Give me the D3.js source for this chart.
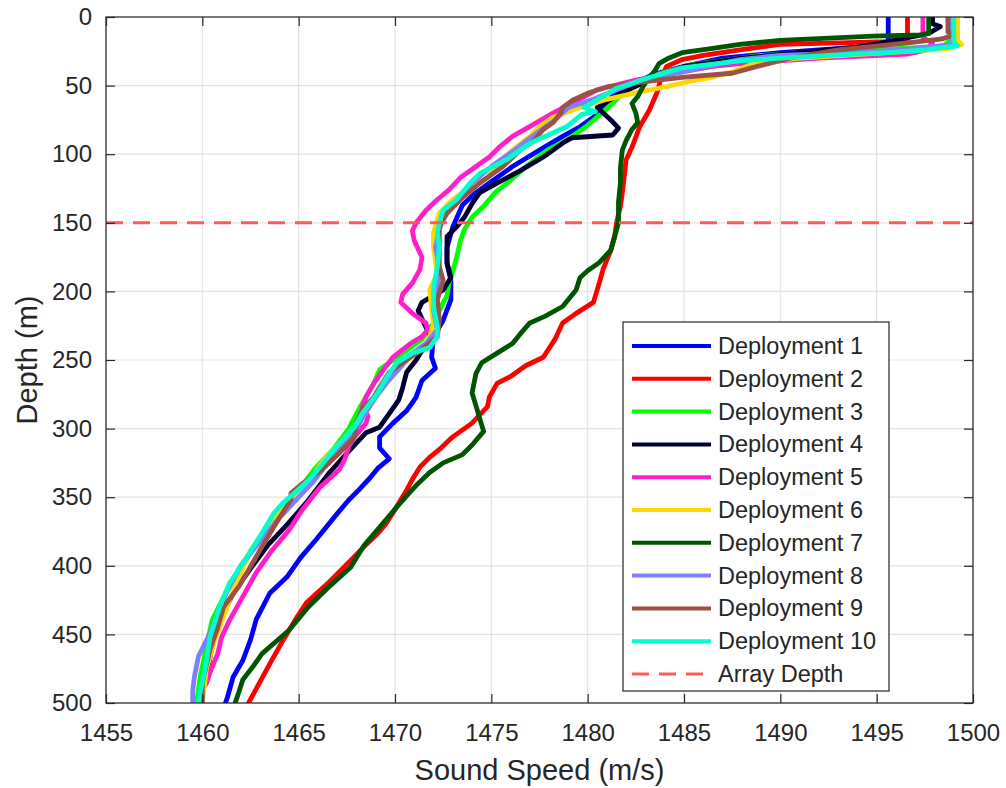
<!DOCTYPE html>
<html>
<head>
<meta charset="utf-8">
<script src="https://cdn.jsdelivr.net/npm/d3@7"></script>
<style>
  body { margin: 0; background: #fff; }
  text { font-family: "Liberation Sans", Arial, sans-serif; fill: #262626; }
</style>
</head>
<body>
<div id="chart"></div>
<script>
// Sound speed profiles, each point is [depth (m), sound speed (m/s)]
var dep1 = [[0,1495.6],[17,1495.6],[19,1496.3],[22,1494.0],[26,1490.0],[30,1487.0],[36,1485.0],[42,1483.4],[47,1482.6],[55,1481.5],[66,1480.7],[73,1480.3],[80,1479.6],[87,1478.7],[97,1477.5],[109,1476.1],[121,1474.9],[128,1474.2],[137,1473.5],[153,1473.0],[168,1472.7],[180,1472.7],[192,1472.9],[206,1472.9],[221,1472.5],[233,1472.0],[248,1471.9],[256,1472.1],[265,1471.4],[277,1471.1],[287,1470.6],[296,1469.9],[306,1469.2],[314,1469.2],[322,1469.7],[329,1469.1],[336,1468.7],[345,1468.1],[352,1467.6],[362,1467.0],[381,1465.9],[394,1465.1],[408,1464.4],[420,1463.5],[439,1462.8],[454,1462.5],[469,1462.1],[481,1461.6],[496,1461.3],[500,1461.2]];
var dep2 = [[0,1496.6],[16,1496.6],[18,1495.6],[20,1490.0],[24,1487.9],[28,1486.0],[31,1484.9],[36,1484.1],[45,1483.8],[55,1483.6],[68,1483.2],[80,1482.7],[95,1482.3],[104,1482.0],[116,1481.9],[128,1481.8],[138,1481.7],[150,1481.5],[160,1481.4],[170,1481.2],[184,1480.8],[194,1480.6],[208,1480.3],[216,1479.4],[223,1478.7],[235,1478.3],[248,1477.7],[254,1476.8],[262,1476.0],[267,1475.3],[277,1474.9],[284,1474.8],[296,1474.0],[306,1473.0],[314,1472.4],[321,1471.8],[328,1471.3],[337,1470.9],[345,1470.6],[359,1470.0],[370,1469.5],[378,1469.0],[386,1468.4],[396,1467.7],[413,1466.5],[427,1465.4],[440,1464.8],[454,1464.2],[464,1463.8],[474,1463.4],[487,1462.9],[500,1462.4]];
var dep3 = [[0,1498.8],[17,1498.8],[21,1498.5],[24,1495.0],[28,1489.0],[35,1485.3],[42,1483.6],[50,1482.3],[60,1481.5],[67,1481.0],[73,1480.5],[80,1479.9],[90,1478.9],[97,1477.9],[109,1476.8],[119,1476.0],[128,1475.2],[138,1474.6],[146,1474.0],[155,1473.6],[163,1473.4],[175,1473.2],[185,1473.0],[194,1472.8],[203,1472.7],[211,1472.4],[221,1472.1],[235,1471.4],[243,1470.6],[250,1469.9],[257,1469.2],[267,1468.9],[272,1468.7],[284,1468.2],[292,1467.9],[300,1467.6],[315,1466.8],[330,1465.8],[345,1465.0],[360,1464.2],[380,1463.0],[400,1462.0],[420,1461.2],[440,1460.5],[460,1460.2],[480,1459.9],[500,1459.7]];
var dep4 = [[0,1497.9],[5,1497.9],[7,1498.3],[12,1497.7],[18,1495.6],[22,1494.0],[26,1491.0],[30,1488.0],[36,1485.0],[44,1483.5],[55,1481.8],[66,1480.5],[75,1481.2],[81,1481.6],[86,1481.3],[88,1479.2],[91,1478.8],[102,1477.7],[112,1476.5],[121,1475.3],[128,1474.4],[136,1474.0],[146,1473.6],[153,1473.2],[160,1472.7],[170,1472.7],[179,1472.7],[190,1472.9],[199,1472.5],[208,1471.4],[214,1471.2],[226,1471.6],[235,1471.9],[243,1471.4],[250,1471.1],[259,1470.6],[270,1470.4],[279,1470.2],[289,1469.7],[299,1469.2],[303,1468.5],[318,1467.5],[332,1466.6],[343,1466.0],[354,1465.4],[370,1464.4],[385,1463.4],[400,1462.6],[420,1461.6],[440,1460.9],[460,1460.5],[480,1460.2],[500,1459.9]];
var dep5 = [[0,1497.4],[15,1497.4],[19,1497.9],[24,1497.6],[27,1496.6],[30,1492.0],[34,1487.9],[36,1486.5],[40,1484.9],[46,1482.5],[53,1480.5],[62,1479.3],[70,1478.2],[79,1477.1],[87,1476.1],[95,1475.4],[102,1474.9],[110,1474.1],[117,1473.4],[126,1472.8],[133,1472.2],[141,1471.6],[150,1471.1],[156,1470.9],[163,1471.0],[175,1471.4],[184,1471.3],[194,1470.9],[202,1470.4],[208,1470.3],[216,1470.9],[223,1471.6],[228,1471.7],[233,1471.4],[238,1470.8],[248,1469.9],[257,1469.4],[267,1468.9],[277,1468.5],[284,1468.3],[291,1468.6],[296,1468.5],[306,1467.9],[313,1467.6],[322,1467.4],[330,1467.1],[343,1466.1],[359,1465.2],[374,1464.5],[389,1463.6],[405,1462.8],[425,1462.0],[440,1461.4],[452,1461.0],[464,1460.8],[474,1460.5],[486,1460.2]];
var dep6 = [[0,1499.2],[17,1499.2],[20,1499.4],[23,1498.7],[26,1495.6],[30,1491.0],[33,1488.8],[40,1487.5],[44,1486.4],[47,1485.3],[51,1484.0],[55,1482.6],[60,1481.0],[66,1479.6],[73,1478.2],[80,1477.5],[87,1477.0],[97,1476.1],[106,1475.4],[117,1474.8],[124,1473.9],[133,1473.0],[143,1472.3],[157,1472.0],[168,1472.0],[187,1472.2],[199,1471.8],[212,1471.9],[225,1472.0],[240,1471.6],[250,1470.6],[262,1469.8],[275,1469.1],[290,1468.4],[305,1467.5],[323,1466.3],[337,1465.6],[350,1464.9],[367,1463.7],[389,1462.5],[418,1461.6],[437,1461.1],[456,1460.6],[476,1460.2],[500,1460.0]];
var dep7 = [[0,1497.7],[12,1497.7],[13,1497.3],[14,1494.8],[17,1490.0],[20,1487.9],[23,1486.4],[26,1484.9],[30,1484.2],[34,1483.7],[39,1483.5],[44,1483.2],[50,1482.9],[58,1482.6],[63,1482.3],[70,1482.5],[77,1482.6],[82,1482.3],[90,1482.0],[97,1481.8],[110,1481.7],[121,1481.7],[135,1481.6],[150,1481.6],[160,1481.4],[170,1481.2],[179,1480.6],[185,1480.0],[190,1479.6],[199,1479.4],[211,1478.7],[218,1477.8],[223,1477.0],[231,1476.5],[238,1476.1],[245,1475.3],[252,1474.5],[260,1474.2],[274,1474.0],[288,1474.3],[302,1474.6],[312,1474.0],[319,1473.5],[325,1472.5],[332,1471.8],[340,1471.2],[349,1470.6],[357,1470.1],[372,1469.2],[385,1468.4],[401,1467.7],[415,1466.6],[430,1465.5],[447,1464.5],[464,1463.1],[474,1462.6],[483,1462.1],[492,1461.9],[500,1461.7]];
var dep8 = [[0,1498.9],[17,1498.9],[20,1499.0],[23,1497.0],[26,1494.0],[28,1490.0],[31,1487.9],[36,1486.2],[40,1484.9],[45,1483.0],[53,1481.5],[60,1480.3],[66,1479.0],[75,1478.3],[85,1477.3],[97,1476.2],[109,1475.0],[121,1474.0],[133,1473.2],[143,1472.6],[155,1472.3],[168,1472.1],[182,1472.3],[199,1472.2],[214,1472.0],[228,1472.2],[238,1471.6],[245,1470.9],[255,1470.3],[266,1469.6],[277,1469.0],[290,1468.4],[300,1468.0],[312,1467.3],[325,1466.5],[338,1465.8],[350,1465.0],[365,1464.0],[382,1463.0],[400,1462.0],[418,1461.3],[435,1460.8],[452,1460.3],[466,1459.8],[480,1459.6],[491,1459.5],[500,1459.5]];
var dep9 = [[0,1498.7],[11,1498.7],[13,1499.0],[16,1498.4],[19,1496.5],[24,1493.0],[30,1490.5],[36,1488.8],[41,1487.5],[44,1484.9],[47,1483.1],[51,1481.0],[55,1480.1],[60,1479.3],[66,1478.7],[70,1478.6],[77,1478.2],[82,1477.7],[90,1477.2],[97,1476.5],[109,1475.6],[121,1474.4],[133,1473.4],[143,1472.7],[153,1472.3],[165,1472.3],[182,1472.3],[192,1472.5],[206,1472.2],[221,1472.3],[233,1472.2],[243,1471.3],[250,1470.6],[259,1469.7],[270,1469.2],[277,1468.9],[286,1468.3],[296,1468.0],[306,1467.9],[318,1467.1],[330,1466.2],[340,1465.2],[347,1464.6],[352,1464.6],[365,1464.0],[386,1463.1],[415,1461.9],[430,1461.1],[445,1460.8],[461,1460.4],[485,1460.0],[500,1460.0]];
var dep10 = [[0,1499.0],[18,1499.0],[21,1499.2],[24,1497.5],[26,1495.6],[28,1492.5],[30,1490.0],[32,1487.9],[37,1484.9],[45,1483.0],[52,1481.5],[62,1480.3],[66,1479.8],[69,1480.4],[71,1479.7],[80,1478.9],[92,1477.0],[104,1475.8],[114,1474.4],[121,1473.9],[133,1473.2],[141,1472.5],[150,1472.3],[157,1472.2],[168,1472.3],[182,1472.2],[197,1472.0],[211,1472.0],[226,1472.2],[233,1472.2],[241,1471.8],[245,1470.9],[252,1470.1],[262,1469.6],[274,1469.1],[289,1468.3],[299,1467.9],[311,1467.1],[321,1466.5],[335,1465.7],[343,1465.1],[354,1464.2],[362,1463.7],[376,1463.1],[394,1462.3],[413,1461.4],[430,1460.9],[452,1460.4],[471,1460.2],[491,1459.9],[500,1459.8]];

var profiles = [dep1, dep2, dep3, dep4, dep5, dep6, dep7, dep8, dep9, dep10];
var names = ["Deployment 1", "Deployment 2", "Deployment 3", "Deployment 4", "Deployment 5",
             "Deployment 6", "Deployment 7", "Deployment 8", "Deployment 9", "Deployment 10"];
var colors = ["#0000ff", "#ff0000", "#00ff00", "#000033", "#ff1ec8",
              "#ffd700", "#005500", "#8080ff", "#9b5246", "#00ffcc"];
var arrayDepth = 150;
var xTicks = [1455, 1460, 1465, 1470, 1475, 1480, 1485, 1490, 1495, 1500];
var yTicks = [0, 50, 100, 150, 200, 250, 300, 350, 400, 450, 500];

// Set up the chart
var svgWidth = 1006;
var svgHeight = 788;
var margin = { top: 17, right: 33, bottom: 85, left: 106 };
var width = 973 - margin.left;
var height = 703 - margin.top;

var svg = d3.select("#chart")
    .append("svg")
    .attr("width", svgWidth)
    .attr("height", svgHeight);

var chartGroup = svg.append("g")
    .attr("transform", `translate(${margin.left}, ${margin.top})`);

var xScale = d3.scaleLinear().domain([1455, 1500]).range([0, width]);
var yScale = d3.scaleLinear().domain([0, 500]).range([0, height]);

// grid
chartGroup.append("g")
    .selectAll("line")
    .data(xTicks)
    .enter().append("line")
    .attr("x1", d => xScale(d)).attr("x2", d => xScale(d))
    .attr("y1", 0).attr("y2", height)
    .attr("stroke", "#e3e3e3").attr("stroke-width", 1.2);
chartGroup.append("g")
    .selectAll("line")
    .data(yTicks)
    .enter().append("line")
    .attr("x1", 0).attr("x2", width)
    .attr("y1", d => yScale(d)).attr("y2", d => yScale(d))
    .attr("stroke", "#e3e3e3").attr("stroke-width", 1.2);

// clip for the curves
svg.append("defs").append("clipPath").attr("id", "clip")
    .append("rect").attr("width", width).attr("height", height);

var line = d3.line()
    .x(d => xScale(d[1]))
    .y(d => yScale(d[0]));

var curves = chartGroup.append("g").attr("clip-path", "url(#clip)");
profiles.forEach(function(p, i) {
    curves.append("path")
        .datum(p)
        .attr("d", line)
        .attr("fill", "none")
        .attr("stroke", colors[i])
        .attr("stroke-width", 4.8)
        .attr("stroke-linejoin", "round")
        .attr("stroke-linecap", "round");
});

// array depth
chartGroup.append("line")
    .attr("x1", 0).attr("x2", width)
    .attr("y1", yScale(arrayDepth)).attr("y2", yScale(arrayDepth))
    .attr("stroke", "#ff5a5a")
    .attr("stroke-width", 3)
    .attr("stroke-dasharray", "17,10");

// axes (MATLAB style: inward ticks on all four sides)
var fmt = d3.format("d");
var bottomAxis = d3.axisBottom(xScale).tickValues(xTicks).tickFormat(fmt).tickSizeInner(-9).tickSizeOuter(0).tickPadding(21);
var topAxis = d3.axisTop(xScale).tickValues(xTicks).tickSizeInner(-9).tickSizeOuter(0).tickFormat("");
var leftAxis = d3.axisLeft(yScale).tickValues(yTicks).tickFormat(fmt).tickSizeInner(-9).tickSizeOuter(0).tickPadding(14);
var rightAxis = d3.axisRight(yScale).tickValues(yTicks).tickSizeInner(-9).tickSizeOuter(0).tickFormat("");

function styleAxis(g) {
    g.select(".domain").remove();
    g.selectAll(".tick line").attr("stroke", "#262626").attr("stroke-width", 1.2);
    g.selectAll(".tick text")
        .attr("font-family", "Liberation Sans, Arial, sans-serif")
        .attr("font-size", 24)
        .attr("fill", "#262626");
}

chartGroup.append("g").attr("transform", `translate(0, ${height})`).call(bottomAxis).call(styleAxis);
chartGroup.append("g").call(topAxis).call(styleAxis);
chartGroup.append("g").call(leftAxis).call(styleAxis);
chartGroup.append("g").attr("transform", `translate(${width}, 0)`).call(rightAxis).call(styleAxis);

chartGroup.append("rect")
    .attr("width", width).attr("height", height)
    .attr("fill", "none").attr("stroke", "#262626").attr("stroke-width", 1.2);

// axis labels
chartGroup.append("text")
    .attr("transform", `translate(${-69}, ${height / 2}) rotate(-90)`)
    .attr("text-anchor", "middle")
    .attr("font-size", 29)
    .text("Depth (m)");

chartGroup.append("text")
    .attr("x", width / 2)
    .attr("y", height + 77)
    .attr("text-anchor", "middle")
    .attr("font-size", 29)
    .text("Sound Speed (m/s)");

// legend
var legend = svg.append("g").attr("transform", "translate(623, 322)");
legend.append("rect")
    .attr("width", 266).attr("height", 369)
    .attr("fill", "#fff").attr("stroke", "#262626").attr("stroke-width", 1.2);

var legendItems = names.map((n, i) => ({ name: n, color: colors[i], dash: null }));
legendItems.push({ name: "Array Depth", color: "#ff5a5a", dash: "17,10" });

var rows = legend.selectAll("g")
    .data(legendItems)
    .enter().append("g")
    .attr("transform", (d, i) => `translate(0, ${24 + i * 32.8})`);

rows.append("line")
    .attr("x1", 9).attr("x2", 88)
    .attr("y1", 0).attr("y2", 0)
    .attr("stroke", d => d.color)
    .attr("stroke-width", d => d.dash ? 3 : 4)
    .attr("stroke-dasharray", d => d.dash);

rows.append("text")
    .attr("x", 95)
    .attr("y", 8)
    .attr("font-size", 23.5)
    .attr("fill", "#000")
    .text(d => d.name);
</script>
</body>
</html>
